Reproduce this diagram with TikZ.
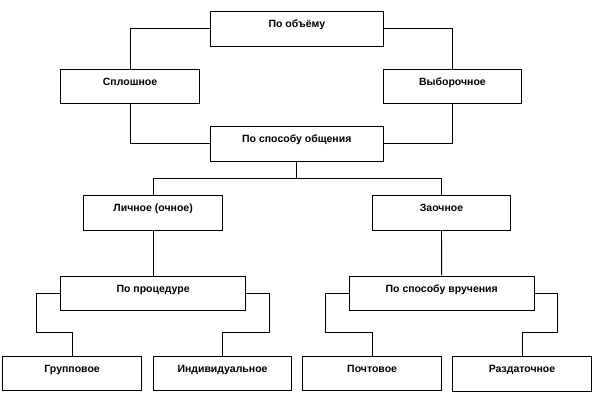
\documentclass[tikz,border=0pt]{standalone}
\usepackage{fontspec}
\setmainfont{Liberation Sans}
\begin{document}
\begin{tikzpicture}[x=1pt,y=-1pt,
  bx/.style={draw, line width=0.9pt, inner sep=0pt, text height=16pt, text depth=18.3pt,
    font=\bfseries\fontsize{10.5}{12}\selectfont},
  wn/.style={minimum width=138.4pt},
  wm/.style={minimum width=172.4pt},
  ww/.style={minimum width=185pt},
  cn/.style={line width=0.9pt}]
\useasboundingbox (0,0) rectangle (592,414);
\node[bx,wm] (vol) at (296.8,28.9) {По объёму};
\node[bx,wn,text depth=18pt] (spl) at (130,86.3) {Сплошное};
\node[bx,wn,text depth=18pt] (vyb) at (452.4,86.3) {Выборочное};
\node[bx,wm,text depth=19.3pt] (obs) at (296.8,143.7) {По способу общения};
\node[bx,wn,text depth=18.7pt] (lich) at (153.1,212.7) {Личное (очное)};
\node[bx,wn,text depth=18.7pt] (zao) at (441.5,212.7) {Заочное};
\node[bx,ww] (proc) at (153.1,293.2) {По процедуре};
\node[bx,ww] (vruch) at (441.7,293.2) {По способу вручения};
\node[bx,wn] (grp) at (72.1,373.2) {Групповое};
\node[bx,wn] (ind) at (222.5,373.2) {Индивидуальное};
\node[bx,wn] (poch) at (372.1,373.2) {Почтовое};
\node[bx,wn,text depth=19.3pt] (raz) at (522,373.7) {Раздаточное};
\coordinate (j1) at (296.8,178.3);
\coordinate (pl) at (36.4,332.7);
\coordinate (pr) at (269.8,332.7);
\coordinate (vl) at (325.2,332.7);
\coordinate (vr) at (557.9,332.7);
\draw[cn] (vol.west) -| (spl.north);
\draw[cn] (vol.east) -| (vyb.north);
\draw[cn] (spl.south) |- (obs.west);
\draw[cn] (vyb.south) |- (obs.east);
\draw[cn] (obs.south) -- (j1);
\draw[cn] (lich.north) |- (j1) -| (zao.north);
\draw[cn] (lich.south) -- (proc.north);
\draw[cn] (zao.south) -- (vruch.north);
\draw[cn] (proc.west) -| (pl) -| (grp.north);
\draw[cn] (proc.east) -| (pr) -| (ind.north);
\draw[cn] (vruch.west) -| (vl) -| (poch.north);
\draw[cn] (vruch.east) -| (vr) -| (raz.north);
\end{tikzpicture}
\end{document}
